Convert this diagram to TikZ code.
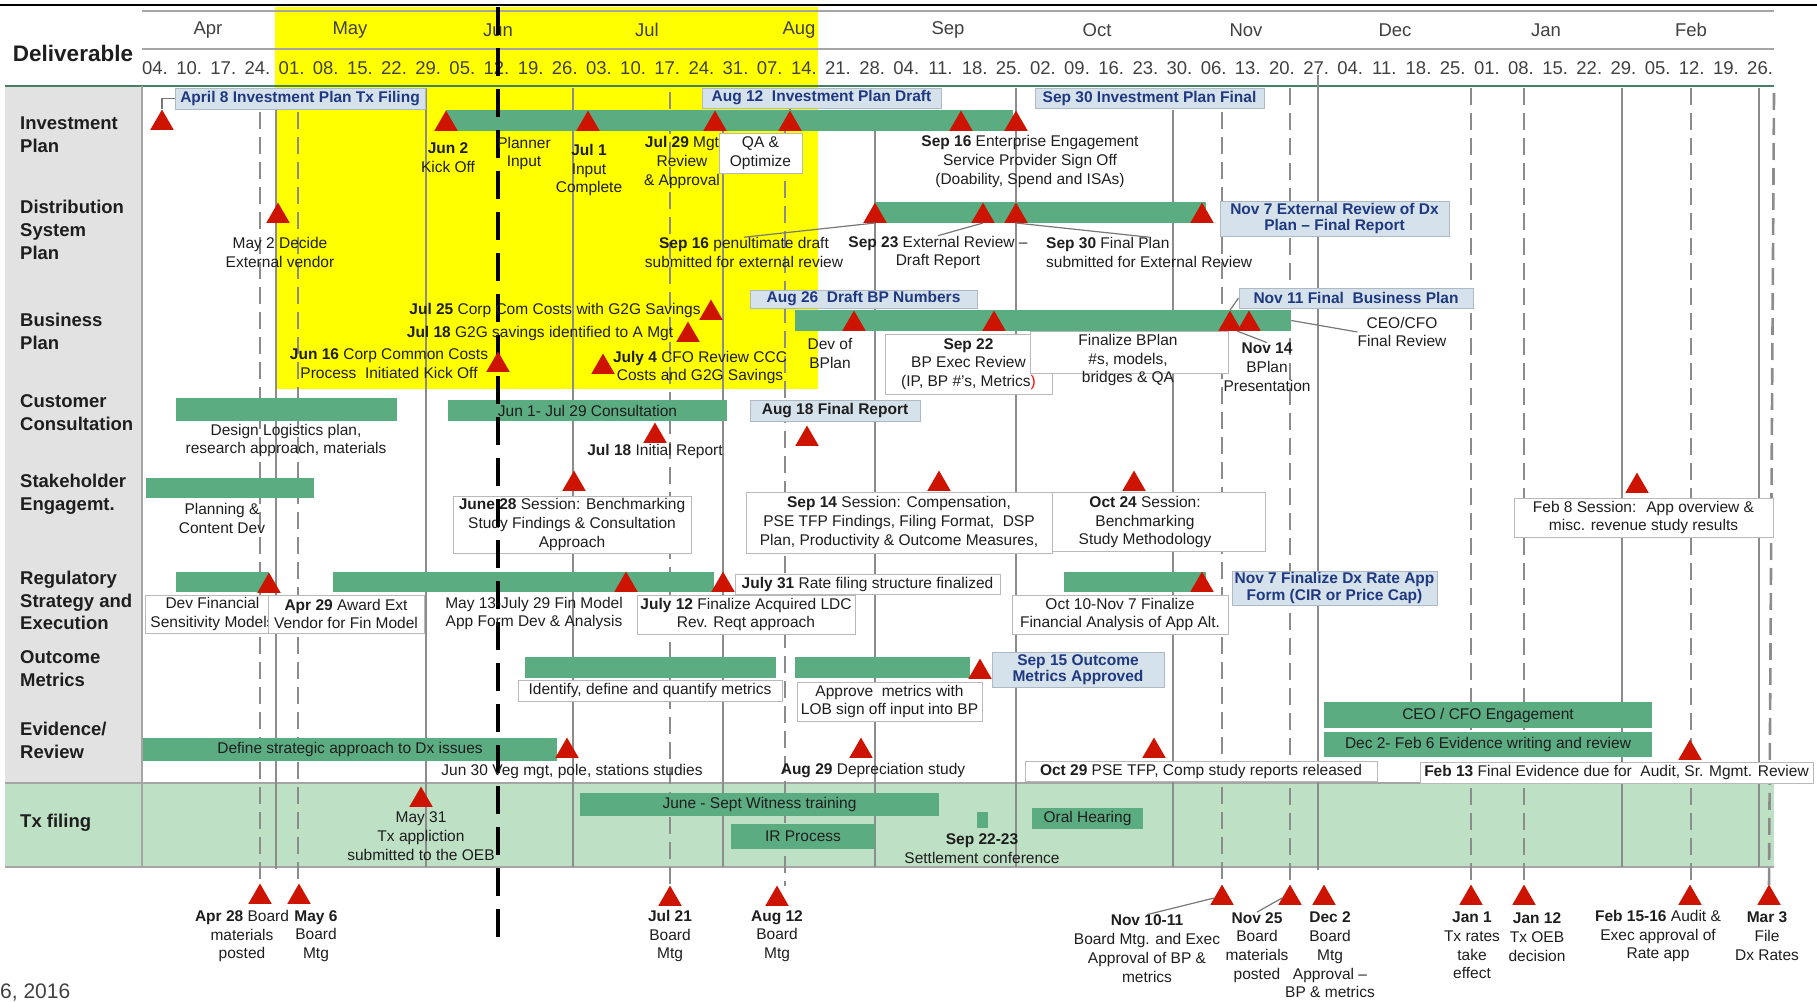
\documentclass[tikz,border=0pt]{standalone}
\usepackage{fontspec}
\setmainfont{Liberation Sans}
\usetikzlibrary{shapes.geometric}

\definecolor{hiyellow}{RGB}{255,255,0}
\definecolor{panelgray}{RGB}{226,226,226}
\definecolor{txgreen}{RGB}{190,224,196}
\definecolor{bargreen}{RGB}{92,172,130}
\definecolor{msred}{RGB}{204,20,0}
\definecolor{navy}{RGB}{31,56,128}
\definecolor{cofill}{RGB}{214,226,235}
\definecolor{coline}{RGB}{175,185,195}
\definecolor{boxline}{RGB}{185,185,185}
\definecolor{vgray}{RGB}{140,140,140}
\definecolor{hdrgray}{RGB}{165,165,165}
\definecolor{hdrteal}{RGB}{70,128,100}
\definecolor{txt}{RGB}{30,30,30}
\definecolor{conngray}{RGB}{120,120,120}

\newcommand{\fsn}{\fontsize{15.5}{18.8}\selectfont}
\newcommand{\fsc}{\fontsize{15.5}{16.5}\selectfont\bfseries}
\newcommand{\fsh}{\fontsize{18.5}{22}\selectfont}
\newcommand{\fsr}{\fontsize{18.5}{22.8}\selectfont\bfseries}

\begin{document}
\begin{tikzpicture}[x=1pt,y=-1pt,
  lbl/.style={align=center, inner sep=0pt, font=\fsn, text=txt},
  rowlbl/.style={align=left, anchor=west, inner sep=0pt, font=\fsr, text=txt},
  mon/.style={inner sep=0pt, font=\fsh, text=txt!85},
  wk/.style={inner sep=0pt, font=\fsh, text=txt!85},
  gbar/.style={fill=bargreen, draw=none, inner sep=0pt, font=\fsn, text=txt},
  cobox/.style={fill=cofill, draw=coline, line width=1pt, inner sep=0pt, align=center, font=\fsc, text=navy},
  wbox/.style={fill=white, draw=boxline, line width=1pt, inner sep=0pt, align=center, font=\fsn, text=txt},
  sz/.style 2 args={minimum width=#1pt, minimum height=#2pt},
  mstone/.style={regular polygon, regular polygon sides=3, minimum size=27pt, inner sep=0pt, fill=msred, draw=none, anchor=side 2},
  vsolid/.style={draw=vgray, line width=2pt},
  vdash/.style={draw=vgray, line width=2.6pt, dash pattern=on 17pt off 8pt},
  keyline/.style={draw=black, line width=4pt, dash pattern=on 28pt off 13pt},
  conn/.style={draw=conngray, line width=1.2pt}
]
\useasboundingbox (0,0) rectangle (1817,1001);

% ---------- backgrounds ----------
\fill[hiyellow] (275,7) rectangle (818,389);
\fill[panelgray] (5,87) rectangle (142,783);
\fill[txgreen] (5,783) rectangle (1774,867);
\draw[hdrgray, line width=1.2pt] (5,783) -- (1774,783);
\draw[hdrgray, line width=1.2pt] (5,867) -- (1774,867);

% ---------- header ----------
\draw[black, line width=2.5pt] (0,5) -- (1817,5);
\draw[hdrgray, line width=2pt] (142,11) -- (1774,11);
\draw[hdrgray, line width=2pt] (142,49) -- (1774,49);
\draw[hdrteal, line width=2.5pt] (5,86) -- (1774,86);
\draw[hdrgray, line width=2pt] (142,86) -- (142,867);

\node[inner sep=0pt, font=\fontsize{22.5}{26}\selectfont\bfseries, text=txt] (deliv) at (73,53) {Deliverable};
\foreach \m/\x in {Apr/208,May/350,Jun/498,Jul/647,Aug/799,Sep/948,Oct/1097,Nov/1246,Dec/1395,Jan/1546,Feb/1691}
  \node[mon] (mon\m) at (\x,30) {\m};
\foreach \w [count=\i from 0] in {04,10,17,24,01,08,15,22,29,05,12,19,26,03,10,17,24,31,07,14,21,28,04,11,18,25,02,09,16,23,30,06,13,20,27,04,11,18,25,01,08,15,22,29,05,12,19,26}
  \node[wk] (wk\i) at ({155+34.15*\i},68) {\w.};

% ---------- row titles ----------
\node[rowlbl] (rIP) at (20,135) {Investment\\Plan};
\node[rowlbl] (rDSP) at (20,230) {Distribution\\System\\Plan};
\node[rowlbl] (rBP) at (20,331) {Business\\Plan};
\node[rowlbl] (rCC) at (20,412.5) {Customer\\Consultation};
\node[rowlbl] (rSE) at (20,494.5) {Stakeholder\\Engagemt.};
\node[rowlbl] (rRG) at (20,600.5) {Regulatory\\Strategy and\\Execution};
\node[rowlbl] (rOM) at (20,669) {Outcome\\Metrics};
\node[rowlbl] (rEV) at (20,740) {Evidence/\\Review};
\node[rowlbl] (rTX) at (20,823) {Tx filing};

% ---------- week grid lines ----------
\foreach \x/\a/\b in {276/110/869, 426/88/867, 573/88/867, 723/110/867, 875/110/867, 1016/88/867, 1173/110/867, 1318/75/870, 1622/88/867, 1759/88/867}
  \draw[vsolid] (\x,\a) -- (\x,\b);
\foreach \x/\a/\b in {260/112/884, 298/112/884, 670/92/886, 785/131/886, 1222/112/885, 1290/88/885, 1471/88/885, 1524/88/885, 1691/88/885}
  \draw[vdash] (\x,\a) -- (\x,\b);
\draw[vdash] (1774,93) -- (1769,885);

% ---------- activity bars ----------
\node[gbar, sz={567}{21}] (ipbar) at (729.5,120.5) {};
\node[gbar, sz={331}{21}] (dspbar) at (1040.5,212.5) {};
\node[gbar, sz={496}{21}] (bpbar) at (1043,320.5) {};
\node[gbar, sz={221}{23}] (ccbarA) at (286.5,409.5) {};
\node[gbar, sz={279}{21}] (ccbarB) at (587.5,410.5) {Jun 1- Jul 29 Consultation};
\node[gbar, sz={168}{20}] (sebar) at (230,488) {};
\node[gbar, sz={93}{20}] (rgbarA) at (222.5,582) {};
\node[gbar, sz={381}{20}] (rgbarB) at (523.5,582) {};
\node[gbar, sz={142}{20}] (rgbarC) at (1135,582) {};
\node[gbar, sz={251}{21}] (ombarA) at (650.5,667.5) {};
\node[gbar, sz={175}{21}] (ombarB) at (882.5,667.5) {};
\node[gbar, sz={414}{23}] (evbarA) at (350,749.5) {Define strategic approach to Dx issues};
\node[gbar, sz={328}{26}] (evbarB) at (1488,715) {CEO / CFO Engagement};
\node[gbar, sz={328}{25}] (evbarC) at (1488,744.5) {Dec 2- Feb 6 Evidence writing and review};
\node[gbar, sz={359}{23}] (txbarA) at (759.5,804.5) {June - Sept Witness training};
\node[gbar, sz={144}{25}] (txbarB) at (803,836.5) {IR Process};
\node[gbar, sz={11}{16}] (txbarC) at (982.5,820) {};
\node[gbar, sz={111}{21}] (txbarD) at (1087.5,818.5) {Oral Hearing};

% ---------- highlighted milestones ----------
\node[cobox, sz={250}{21}] (coA) at (300,98.5) {April 8 Investment Plan Tx Filing};
\node[cobox, sz={239}{20}] (coB) at (821.5,98) {Aug 12~ Investment Plan Draft};
\node[cobox, sz={229}{20}] (coC) at (1149.5,98) {Sep 30 Investment Plan Final};
\node[cobox, sz={229}{35}] (coD) at (1334.5,218.5) {Nov 7 External Review of Dx\\Plan – Final Report};
\node[cobox, sz={227}{18}] (coE) at (863.5,299) {Aug 26~ Draft BP Numbers};
\node[cobox, sz={234}{20}] (coF) at (1356,298) {Nov 11 Final~ Business Plan};
\node[cobox, sz={170}{21}, text=txt] (coG) at (835,410.5) {Aug 18 Final Report};
\node[cobox, sz={205}{34}] (coH) at (1334.5,588) {Nov 7 Finalize Dx Rate App\\Form (CIR or Price Cap)};
\node[cobox, sz={172}{35}] (coI) at (1078,669.5) {Sep 15 Outcome\\Metrics Approved};

% ---------- note boxes ----------
\node[wbox, sz={83}{40}] (bxQA) at (760.5,153) {QA \&\\Optimize};
\node[wbox, sz={167}{60}] (bxSep22) at (968.5,364) {\textbf{Sep 22}\\BP Exec Review\\(IP, BP \#'s, Metrics\textcolor{red}{)}};
\node[wbox, sz={198}{42}] (bxFin) at (1129,352) {};
\node[wbox, sz={238}{57}] (bxJun28) at (572,524.5) {\textbf{June 28} Session: Benchmarking\\Study Findings \& Consultation\\Approach};
\node[wbox, sz={306}{61}] (bxSep14) at (899,522.5) {\textbf{Sep 14} Session: Compensation,\\PSE TFP Findings, Filing Format,~ DSP\\Plan, Productivity \& Outcome Measures,};
\node[wbox, sz={213}{59}] (bxOct24) at (1158.5,521.5) {};
\node[wbox, sz={259}{39}] (bxFeb8) at (1643.5,517.5) {Feb 8 Session:~ App overview \&\\misc. revenue study results};
\node[wbox, sz={135}{38}] (bxDev) at (212.5,614) {Dev Financial\\Sensitivity Models};
\node[wbox, sz={156}{38}] (bxApr29) at (346,614) {\textbf{Apr 29} Award Ext\\Vendor for Fin Model};
\node[wbox, sz={218}{39}] (bxJul12) at (746,614.5) {\textbf{July 12} Finalize Acquired LDC\\Rev. Reqt approach};
\node[wbox, sz={265}{20}] (bxJul31) at (867.5,584) {\textbf{July 31} Rate filing structure finalized};
\node[wbox, sz={216}{39}] (bxOct10) at (1120,614.5) {Oct 10-Nov 7 Finalize\\Financial Analysis of App Alt.};
\node[wbox, sz={264}{21}] (bxIdent) at (650,690.5) {Identify, define and quantify metrics};
\node[wbox, sz={185}{39}] (bxApprove) at (889.5,701.5) {Approve~ metrics with\\LOB sign off input into BP};
\node[wbox, sz={352}{20}] (bxOct29) at (1201,771) {\textbf{Oct 29} PSE TFP, Comp study reports released};
\node[wbox, sz={393}{21}] (bxFeb13) at (1616.5,772.5) {\textbf{Feb 13} Final Evidence due for~ Audit, Sr. Mgmt. Review};

% ---------- today line ----------
\draw[keyline] (498,7) -- (498,945);

% ---------- milestone markers ----------
\node[mstone] (ipA) at (162,130) {};
\node[mstone] (ipB) at (446,131) {};
\node[mstone] (ipC) at (588,131) {};
\node[mstone] (ipD) at (715,131) {};
\node[mstone] (ipE) at (790,131) {};
\node[mstone] (ipF) at (961,131) {};
\node[mstone] (ipG) at (1016,131) {};
\node[mstone] (dsA) at (278,223) {};
\node[mstone] (dsB) at (875,223) {};
\node[mstone] (dsC) at (983,223) {};
\node[mstone] (dsD) at (1016,223) {};
\node[mstone] (dsE) at (1202,223) {};
\node[mstone] (bpA) at (711,320) {};
\node[mstone] (bpB) at (688,342) {};
\node[mstone] (bpC) at (498,372) {};
\node[mstone] (bpD) at (603,374) {};
\node[mstone] (bpE) at (854,331) {};
\node[mstone] (bpF) at (994,331) {};
\node[mstone] (bpG) at (1230,331) {};
\node[mstone] (bpH) at (1249,331) {};
\node[mstone] (ccA) at (655,443) {};
\node[mstone] (ccB) at (807,446) {};
\node[mstone] (seA) at (574,491) {};
\node[mstone] (seB) at (939,491) {};
\node[mstone] (seC) at (1134,491) {};
\node[mstone] (seD) at (1637,493) {};
\node[mstone] (rgA) at (269,593) {};
\node[mstone] (rgB) at (626,592) {};
\node[mstone] (rgC) at (723,592) {};
\node[mstone] (rgD) at (1202,592) {};
\node[mstone] (omA) at (980,679) {};
\node[mstone] (evA) at (567,758) {};
\node[mstone] (evB) at (861,758) {};
\node[mstone] (evC) at (1154,758) {};
\node[mstone] (evD) at (1690,760) {};
\node[mstone] (txA) at (421,807) {};
\node[mstone] (bmA) at (260,904) {};
\node[mstone] (bmB) at (299,904) {};
\node[mstone] (bmC) at (670,906) {};
\node[mstone] (bmD) at (777,906) {};
\node[mstone] (bmE) at (1222,905) {};
\node[mstone] (bmF) at (1290,905) {};
\node[mstone] (bmG) at (1324,905) {};
\node[mstone] (bmH) at (1471,905) {};
\node[mstone] (bmI) at (1524,905) {};
\node[mstone] (bmJ) at (1690,905) {};
\node[mstone] (bmK) at (1769,905) {};

% ---------- labels ----------
\node[lbl] (ipjun2) at (448,157.5) {\textbf{Jun 2}\\Kick Off};
\node[lbl] (ipplan) at (524,153.5) {Planner\\Input};
\node[lbl] (ipjul1) at (589,170) {\textbf{Jul 1}\\Input\\Complete};
\node[lbl] (ipjul29) at (682,162.5) {\textbf{Jul 29} Mgt\\Review\\\& Approval};
\node[lbl] (ipsep16) at (1030,161.5) {\textbf{Sep 16} Enterprise Engagement\\Service Provider Sign Off\\(Doability, Spend and ISAs)};

\node[lbl] (dspmay2) at (280,252.5) {May 2 Decide\\External vendor};
\node[lbl] (dspsep16) at (744,252.5) {\textbf{Sep 16} penultimate draft\\submitted for external review};
\node[lbl] (dspsep23) at (938,252.5) {\textbf{Sep 23} External Review –\\Draft Report};
\node[lbl, align=left, anchor=west] (dspsep30) at (1046,252.5) {\textbf{Sep 30} Final Plan\\submitted for External Review};

\node[lbl] (bpjul25) at (555,310) {\textbf{Jul 25} Corp Com Costs with G2G Savings};
\node[lbl] (bpjul18) at (540,333) {\textbf{Jul 18} G2G savings identified to A Mgt};
\node[lbl] (bpjun16) at (389,363.5) {\textbf{Jun 16} Corp Common Costs\\Process~ Initiated Kick Off};
\node[lbl] (bpjul4) at (700,367.5) {\textbf{July 4} CFO Review CCC\\Costs and G2G Savings};
\node[lbl] (bpdev) at (830,353.5) {Dev of\\BPlan};
\node[lbl] (bpfinal) at (1128,360) {Finalize BPlan\\\#s, models,\\bridges \& QA};
\node[lbl] (bpnov14) at (1267,367) {\textbf{Nov 14}\\BPlan\\Presentation};
\node[lbl] (bpceo) at (1402,332) {CEO/CFO\\Final Review};

\node[lbl] (ccdesign) at (286,440.5) {Design Logistics plan,\\research approach, materials};
\node[lbl] (ccjul18) at (655,451) {\textbf{Jul 18} Initial Report};

\node[lbl] (seplan) at (222,518.5) {Planning \&\\Content Dev};
\node[lbl] (seoct24) at (1145,522) {\textbf{Oct 24} Session:\\Benchmarking\\Study Methodology};

\node[lbl] (rgfin) at (534,613.5) {May 13-July 29 Fin Model\\App Form Dev \& Analysis};

\node[lbl] (evjun30) at (572,771) {Jun 30 Veg mgt, pole, stations studies};
\node[lbl] (evaug29) at (873,771) {\textbf{Aug 29} Depreciation study};

\node[lbl] (txmay31) at (421,836) {May 31\\Tx appliction\\submitted to the OEB};
\node[lbl] (txsep22) at (982,848.5) {\textbf{Sep 22-23}\\Settlement conference};

\node[lbl] (bmapr28) at (242,936) {\textbf{Apr 28} Board\\materials\\posted};
\node[lbl] (bmmay6) at (316,936) {\textbf{May 6}\\Board\\Mtg};
\node[lbl] (bmjul21) at (670,936) {\textbf{Jul 21}\\Board\\Mtg};
\node[lbl] (bmaug12) at (777,936) {\textbf{Aug 12}\\Board\\Mtg};
\node[lbl] (bmnov10) at (1147,948.5) {\textbf{Nov 10-11}\\Board Mtg. and Exec\\Approval of BP \&\\metrics};
\node[lbl] (bmnov25) at (1257,947.5) {\textbf{Nov 25}\\Board\\materials\\posted};
\node[lbl] (bmdec2) at (1330,955) {\textbf{Dec 2}\\Board\\Mtg\\Approval –\\BP \& metrics};
\node[lbl] (bmjan1) at (1472,945.5) {\textbf{Jan 1}\\Tx rates\\take\\effect};
\node[lbl] (bmjan12) at (1537,937) {\textbf{Jan 12}\\Tx OEB\\decision};
\node[lbl] (bmfeb15) at (1658,936) {\textbf{Feb 15-16} Audit \&\\Exec approval of\\Rate app};
\node[lbl] (bmmar3) at (1767,936) {\textbf{Mar 3}\\File\\Dx Rates};

\node[anchor=west, inner sep=0pt, font=\fontsize{21}{24}\selectfont, text=txt!85] (footdate) at (0,992) {6, 2016};

% ---------- leader lines ----------
\draw[conn] (coA.west) -| (ipA.corner 1);
\draw[conn] (coB.south -| ipE.corner 1) -- (ipE.corner 1);
\draw[conn] (dspsep16.north) -- (dsB.side 2);
\draw[conn] (dspsep23.north) -- (dsC.side 2);
\draw[conn] (dsD.side 2) -- (dspsep30.north);
\draw[conn] (coF.west) -- (bpG.corner 1);
\draw[conn] (bpbar.east) -- (bpceo.west);
\draw[conn] (bpH.corner 2) -- (bpnov14.north);
\draw[conn] (bmnov10.north) -- (bmE.west);
\draw[conn] (bmnov25.north) -- (bmF.west);
\end{tikzpicture}
\end{document}
